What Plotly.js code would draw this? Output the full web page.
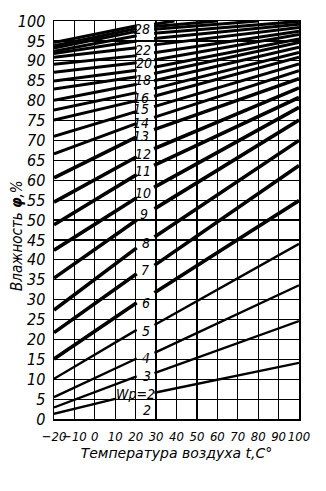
<!DOCTYPE html>
<html>
<head>
<meta charset="utf-8">
<script src="https://cdn.plot.ly/plotly-3.0.1.min.js"></script>
<style>
  html, body { margin: 0; padding: 0; background: #fff; }
  #chart { width: 326px; height: 491px; }
</style>
</head>
<body>
<div id="chart"></div>
<script>
// Equilibrium moisture content Wp (%) as a function of air temperature t (°C)
// and relative humidity φ (%). Each Wp line is broken where its label sits.

const moisture = [2, 3, 4, 5, 6, 7, 8, 9, 10, 11, 12, 13, 14, 15, 16, 17, 18, 19, 20, 21, 22, 23, 24, 25, 26, 27, 28];

// humidity at the left edge of the chart
const tLeftEdge   = [-20, -20, -20, -20, -20, -20, -20, -20, -20, -20, -20, -20, -20, -20, -20, -20, -20, -20, -20, -20, -20, -20, -20, -20, -20, -20, -20];
const phiLeftEdge = [1.3, 2.9, 5.5, 10.1, 15.1, 21.7, 27.4, 35.4, 42.4, 48.8, 54.5, 60.6, 66.6, 71.0, 75.1, 77.6, 80.1, 82.9, 84.9, 87.1, 89.1, 90.9, 91.8, 92.4, 93.2, 93.8, 94.6];

// where the line stops before its label
const tBeforeLabel   = [10.5, 20.5, 20.5, 20.5, 20.5, 20.5, 20.5, 20.5, 20.5, 20.5, 20.5, 20.5, 20.5, 20.5, 20.5, 20.5, 20.5, 20.5, 20.5, 20.5, 20.5, 20.5, 20.5, 20.5, 20.5, 20.5, 20.5];
const phiBeforeLabel = [5.1, 10.7, 15.2, 22.4, 29.2, 36.5, 43.0, 50.0, 55.6, 61.4, 65.9, 70.9, 74.3, 77.3, 80.0, 82.0, 84.1, 86.0, 87.6, 89.5, 91.3, 93.3, 95.0, 96.3, 97.4, 98.1, 98.8];

// where the line resumes after its label
const tAfterLabel   = [29.2, 29.2, 29.2, 29.2, 29.2, 29.2, 29.2, 29.2, 29, 29, 29, 29, 29, 29, 29, 29, 29, 29, 29, 29, 29, 29, 29, 29, 29, 29, 29];
const phiAfterLabel = [6.6, 11.5, 16.6, 23.6, 31.7, 38.6, 45.7, 52.8, 58.2, 63.7, 67.9, 72.7, 75.8, 78.5, 81.1, 83.0, 85.0, 86.8, 88.4, 90.2, 92.0, 94.0, 95.6, 96.9, 97.9, 98.6, 99.2];

// right end of each line (the top lines reach φ = 100 % earlier)
const tRightEnd   = [100, 100, 100, 100, 100, 100, 100, 100, 100, 100, 100, 100, 100, 100, 100, 100, 100, 100, 100, 100, 100, 100, 100, 100, 80, 60, 39];
const phiRightEnd = [14.1, 24.6, 33.6, 44.0, 54.9, 63.7, 70.0, 75.1, 78.3, 80.8, 83.2, 85.5, 87.5, 89.2, 90.9, 92.1, 93.4, 94.6, 95.5, 96.6, 97.4, 98.4, 99.2, 99.9, 100, 100, 100];

// line labels and where they are placed (t, φ)
const labelText = ['Wp=2', '2', '3', '4', '5', '6', '7', '8', '9', '10', '11', '12', '13', '14', '15', '16', '18', '20', '22', '28'];
const labelAt = [
  [20.0, 6.3], [25.6, 2.3], [25.4, 10.8], [24.9, 15.4], [25.2, 22.1], [24.9, 29.1],
  [24.7, 37.4], [25.2, 44.3], [23.9, 51.4], [23.7, 56.8], [23.7, 62.2], [23.4, 66.7],
  [22.7, 71.2], [22.5, 74.4], [22.5, 78.0], [22.5, 80.7], [23.4, 85.3], [23.9, 89.4],
  [23.7, 92.8], [23.2, 98.0]
];

const NARROW = '"Liberation Sans Narrow", "DejaVu Sans Condensed", "Liberation Sans", sans-serif';
const WIDE = '"DejaVu Sans", sans-serif';

function lineWidth(w) {
  if (w <= 5) return 2.4;
  if (w <= 13) return 3.6;
  return 3;
}

const traces = moisture.map((w, i) => ({
  type: 'scatter',
  mode: 'lines',
  name: 'Wp=' + w,
  x: [tLeftEdge[i], tBeforeLabel[i], null, tAfterLabel[i], tRightEnd[i]],
  y: [phiLeftEdge[i], phiBeforeLabel[i], null, phiAfterLabel[i], phiRightEnd[i]],
  connectgaps: false,
  line: { color: '#000', width: lineWidth(w) },
  hoverinfo: 'skip'
}));

const annotations = labelText.map((txt, i) => ({
  x: labelAt[i][0],
  y: labelAt[i][1],
  xref: 'x',
  yref: 'y',
  text: txt,
  showarrow: false,
  xanchor: 'center',
  yanchor: 'middle',
  font: { family: NARROW, size: 14, color: '#000', style: 'italic' }
}));

// vertical axis caption
annotations.push({
  xref: 'paper',
  yref: 'paper',
  x: -0.151,
  y: 0.46,
  xanchor: 'center',
  yanchor: 'middle',
  textangle: -90,
  showarrow: false,
  text: 'Влажность <b>φ</b>,%',
  font: { family: '"DejaVu Sans Condensed", "DejaVu Sans", sans-serif', size: 15, color: '#000', style: 'italic' }
});

const layout = {
  width: 326,
  height: 491,
  margin: { l: 54, r: 27, t: 21, b: 72 },
  paper_bgcolor: '#fff',
  plot_bgcolor: '#fff',
  showlegend: false,
  xaxis: {
    range: [-20, 100],
    tick0: -20,
    dtick: 10,
    tickangle: 0,
    showgrid: true,
    gridcolor: '#000',
    gridwidth: 1.2,
    zeroline: false,
    showline: true,
    linecolor: '#000',
    linewidth: 1.5,
    mirror: true,
    ticks: '',
    ticklabelstandoff: 5,
    tickfont: { family: NARROW, size: 13, color: '#000', style: 'italic' },
    title: {
      text: 'Температура воздуха t,C°',
      standoff: 5,
      font: { family: WIDE, size: 14, color: '#000', style: 'italic' }
    }
  },
  yaxis: {
    range: [0, 100],
    tick0: 0,
    dtick: 5,
    showgrid: true,
    gridcolor: '#000',
    gridwidth: 1.2,
    zeroline: false,
    showline: true,
    linecolor: '#000',
    linewidth: 1.5,
    mirror: true,
    ticks: '',
    ticklabelstandoff: 4,
    tickfont: { family: NARROW, size: 16, color: '#000', style: 'italic' }
  },
  annotations: annotations
};

Plotly.newPlot('chart', traces, layout, { displayModeBar: false, staticPlot: true });
</script>
</body>
</html>
